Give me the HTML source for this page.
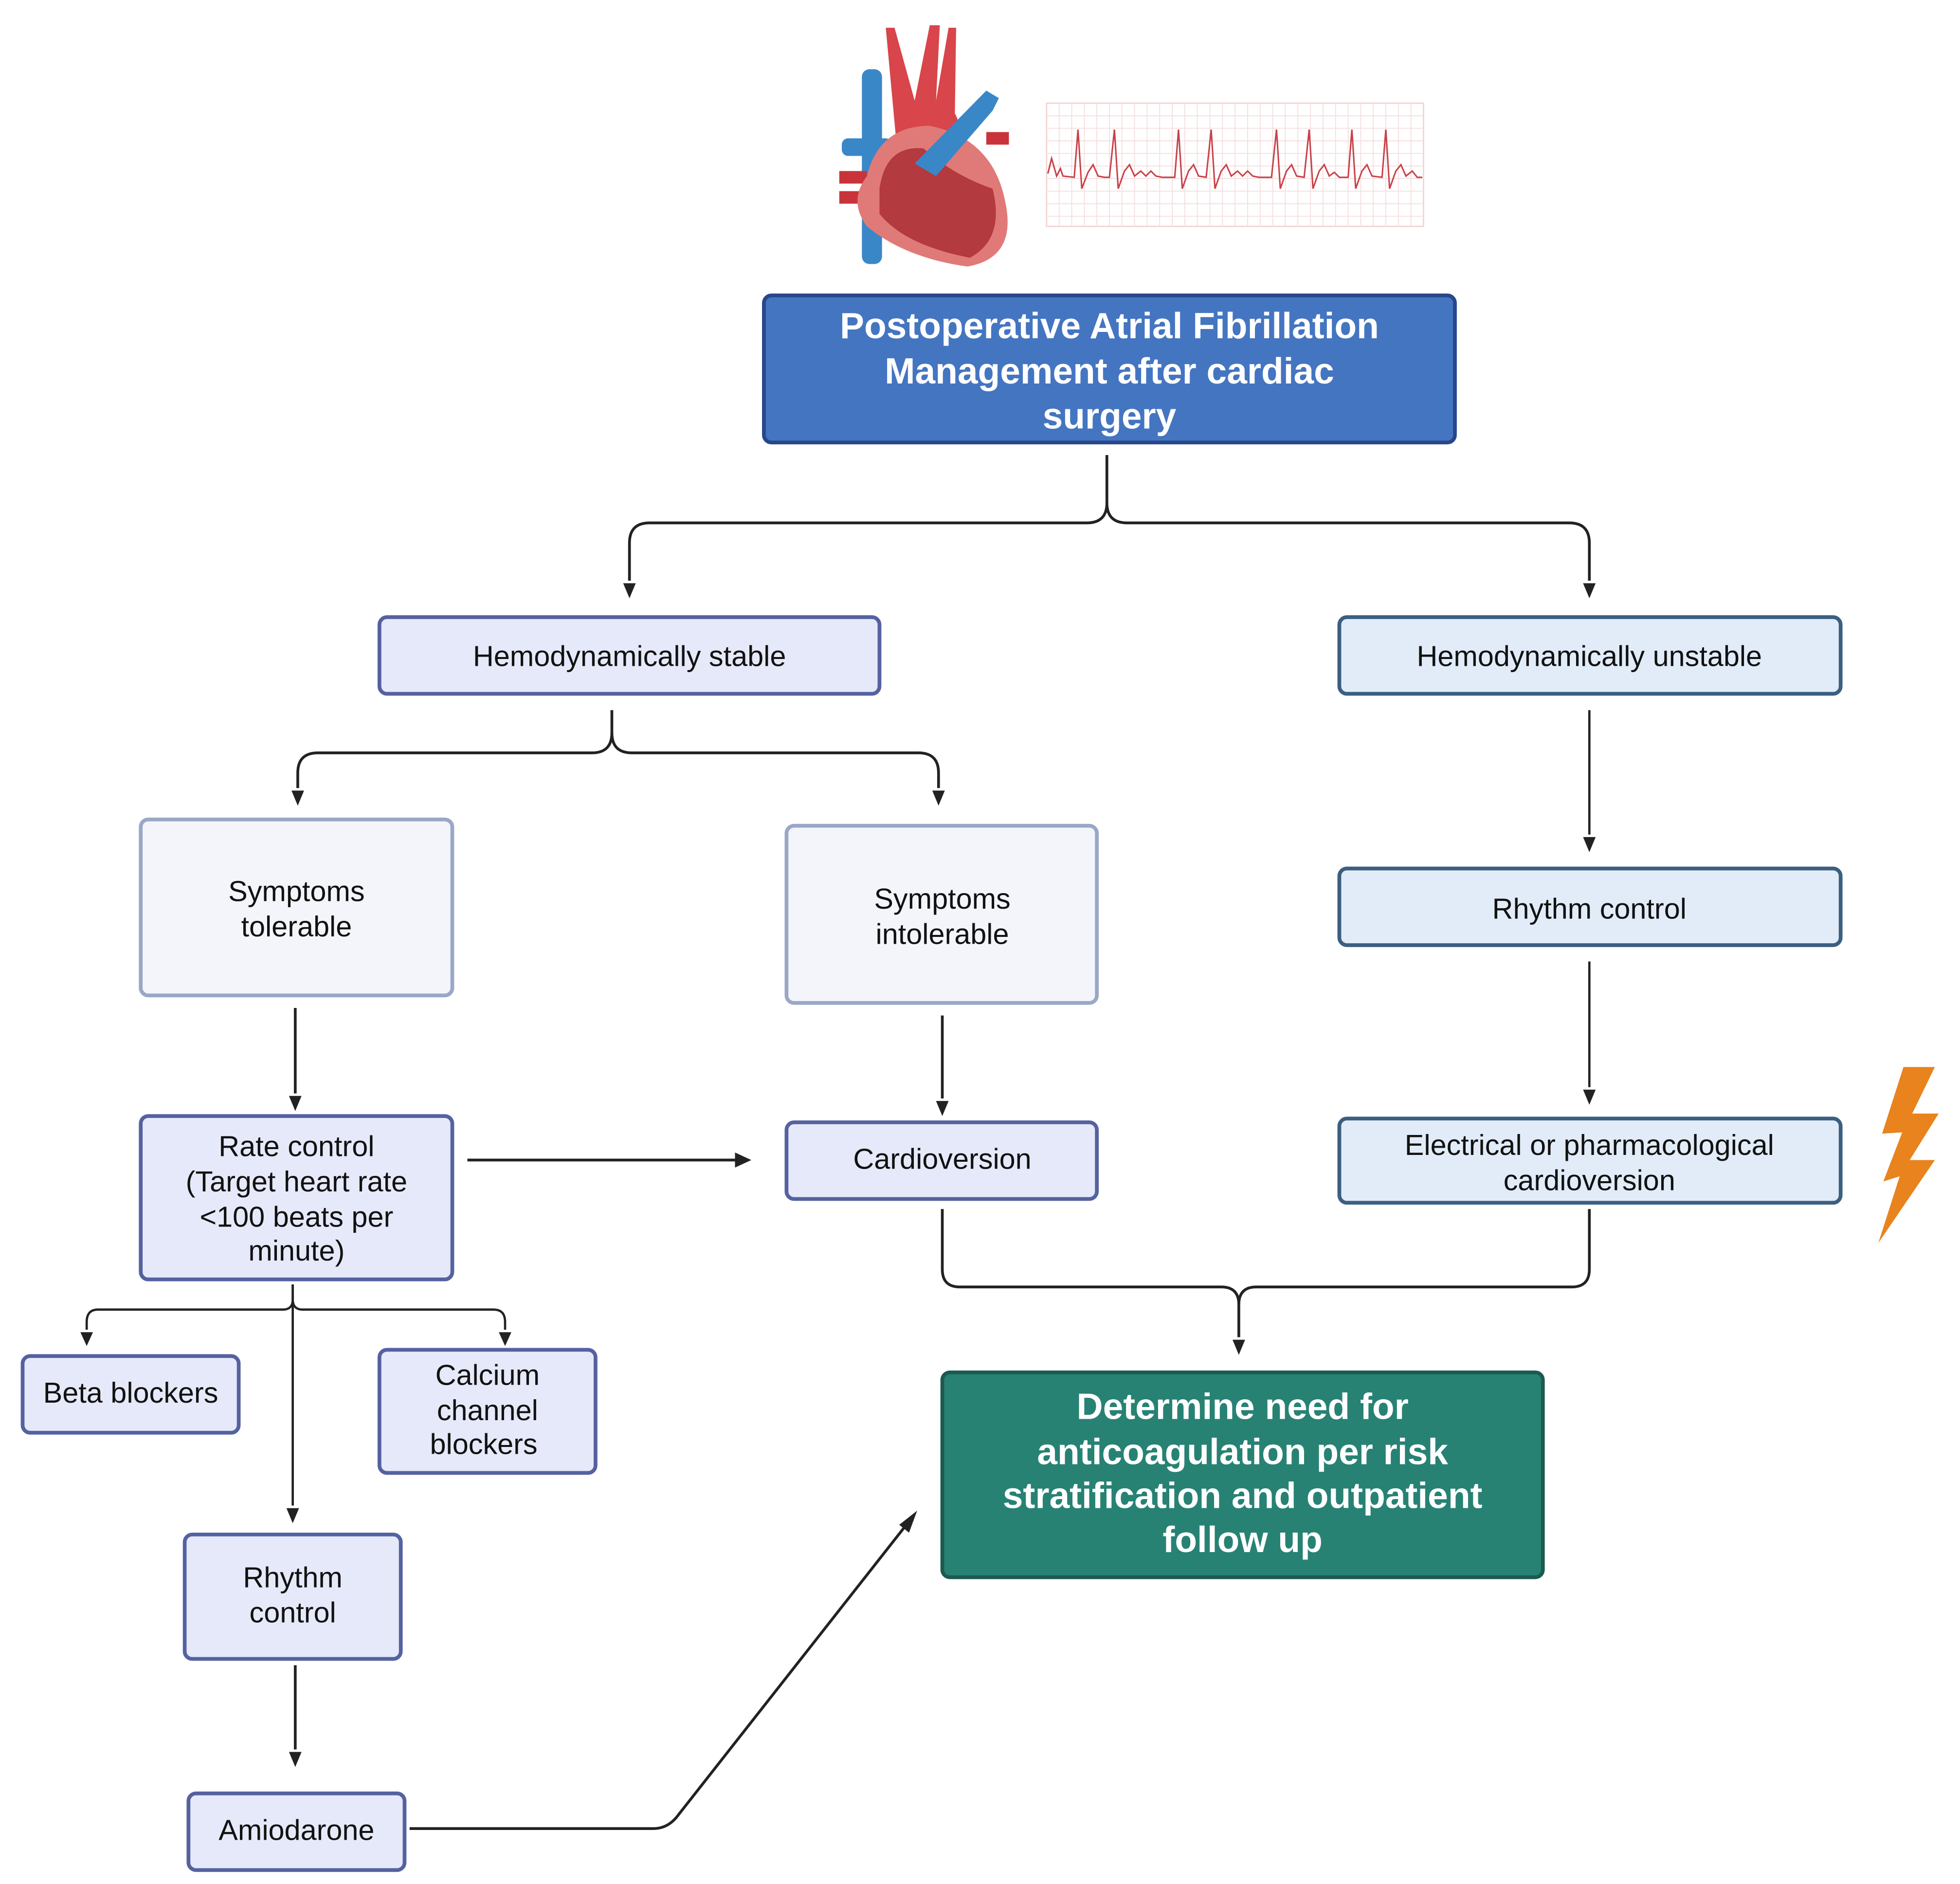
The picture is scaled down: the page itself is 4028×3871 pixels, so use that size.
<!DOCTYPE html>
<html><head><meta charset="utf-8"><style>
html,body{margin:0;padding:0;background:#fff;}
svg{display:block;}
text{font-family:"Liberation Sans",Arial,sans-serif;}
</style></head><body>
<svg width="4028" height="3871" viewBox="0 0 1560 1499" xmlns="http://www.w3.org/2000/svg">
<rect width="1560" height="1499" fill="#fff"/>

<!-- Heart -->
<g>
<rect x="686" y="55" width="16" height="155" rx="6" fill="#3a87c8"/>
<rect x="670" y="110" width="40" height="14" rx="5" fill="#3a87c8"/>
<rect x="668" y="136" width="22" height="10" fill="#c9343a"/>
<rect x="668" y="152" width="22" height="10" fill="#c9343a"/>
<path d="M705,22 L712,22 L728,80 L740,20 L748,20 L745,80 L755,22 L761,22 L760,90 Q770,110 760,128 L715,130 Z" fill="#d8454a"/>
<path d="M690,140 Q700,100 740,100 Q790,110 800,160 Q810,205 770,212 Q720,205 690,180 Q675,160 690,140 Z" fill="#e07a78"/>
<path d="M700,150 Q705,115 735,118 Q760,140 790,150 Q800,190 772,205 Q720,195 700,170 Z" fill="#b33a3e"/>
<path d="M728,130 L785,72 L795,78 L790,88 L745,140 Z" fill="#3a87c8"/>
<rect x="785" y="105" width="18" height="10" fill="#c9343a"/>
</g>

<!-- ECG -->
<g>
<rect x="833" y="82" width="300" height="98" fill="#fff" stroke="#f3d0d0" stroke-width="1"/>
<g stroke="#f6dede" stroke-width="0.7">
<path d="M843,82V180M853,82V180M863,82V180M873,82V180M883,82V180M893,82V180M903,82V180M913,82V180M923,82V180M933,82V180M943,82V180M953,82V180M963,82V180M973,82V180M983,82V180M993,82V180M1003,82V180M1013,82V180M1023,82V180M1033,82V180M1043,82V180M1053,82V180M1063,82V180M1073,82V180M1083,82V180M1093,82V180M1103,82V180M1113,82V180M1123,82V180"/>
<path d="M833,92H1133M833,102H1133M833,112H1133M833,122H1133M833,132H1133M833,142H1133M833,152H1133M833,162H1133M833,172H1133"/>
</g>
<path d="M834,138 L837,126 L841,140 L844,134 L846,140 L855,141 L858,103 L861,150 L866,137 L870,131 L874,140 L879,141 L883,141 L887,103 L890,150 L895,136 L899,131 L903,140 L908,136 L912,140 L916,136 L920,140 L925,141 L929,141 L935,141 L938,103 L941,150 L946,136 L950,131 L954,140 L960,141 L964,103 L967,150 L972,136 L976,131 L980,140 L985,136 L989,140 L993,136 L997,140 L1002,141 L1012,141 L1016,103 L1019,150 L1024,136 L1028,131 L1032,140 L1038,141 L1042,103 L1045,150 L1050,136 L1054,131 L1058,140 L1062,137 L1066,141 L1073,141 L1076,103 L1079,150 L1084,136 L1088,131 L1092,140 L1100,141 L1103,103 L1106,150 L1111,136 L1115,131 L1119,140 L1124,136 L1128,141 L1132,141" fill="none" stroke="#c8424a" stroke-width="1.2"/>
</g>

<!-- Connectors -->
<g fill="none" stroke="#222" stroke-width="2.2">
<path d="M881,362 V400 Q881,416 865,416 H517 Q501,416 501,432 V462"/>
<path d="M881,400 Q881,416 897,416 H1249 Q1265,416 1265,432 V462"/>
<path d="M487,565 V583 Q487,599 471,599 H253 Q237,599 237,615 V627"/>
<path d="M487,583 Q487,599 503,599 H731 Q747,599 747,615 V627"/>
<path d="M1265,565 V664" stroke-width="1.8"/>
<path d="M1265,765 V865" stroke-width="1.8"/>
<path d="M235,802 V870"/>
<path d="M750,808 V874"/>
<path d="M372,923 H585"/>
<path d="M750,962 V1010 Q750,1024 764,1024 H972 Q986,1024 986,1038 V1064"/>
<path d="M1265,962 V1010 Q1265,1024 1251,1024 H1000 Q986,1024 986,1038"/>
<path d="M233,1022 V1034 Q233,1042 225,1042 H78 Q69,1042 69,1052 V1058" stroke-width="1.8"/>
<path d="M233,1034 Q233,1042 241,1042 H393 Q402,1042 402,1052 V1058" stroke-width="1.8"/>
<path d="M233,1022 V1198" stroke-width="1.8"/>
<path d="M235,1325 V1392"/>
<path d="M326,1455 H520 Q532,1455 540,1444 L720,1215"/>
</g>
<g fill="#222">
<polygon points="496,464 506,464 501,476"/>
<polygon points="1260,464 1270,464 1265,476"/>
<polygon points="232,629 242,629 237,641"/>
<polygon points="742,629 752,629 747,641"/>
<polygon points="1260,666 1270,666 1265,678"/>
<polygon points="1260,867 1270,867 1265,879"/>
<polygon points="230,872 240,872 235,884"/>
<polygon points="745,876 755,876 750,888"/>
<polygon points="585,917 585,929 598,923"/>
<polygon points="981,1066 991,1066 986,1078"/>
<polygon points="64,1060 74,1060 69,1071"/>
<polygon points="397,1060 407,1060 402,1071"/>
<polygon points="228,1200 238,1200 233,1212"/>
<polygon points="230,1394 240,1394 235,1406"/>
<polygon points="723.5,1219.5 715.7,1213.3 730,1202"/>
</g>

<!-- Boxes -->
<g stroke-width="3">
<rect x="608" y="235" width="550" height="117" rx="6" fill="#4475c1" stroke="#27478a"/>
<rect x="302" y="491" width="398" height="61" rx="6" fill="#e6e9f9" stroke="#5562a0"/>
<rect x="1066" y="491" width="399" height="61" rx="6" fill="#e1ecf8" stroke="#3c5f80"/>
<rect x="112" y="652" width="248" height="140" rx="6" fill="#f3f5fb" stroke="#9aa8c6"/>
<rect x="626" y="657" width="247" height="141" rx="6" fill="#f3f5fb" stroke="#9aa8c6"/>
<rect x="1066" y="691" width="399" height="61" rx="6" fill="#e1ecf8" stroke="#3c5f80"/>
<rect x="112" y="888" width="248" height="130" rx="6" fill="#e6e9f9" stroke="#5562a0"/>
<rect x="626" y="893" width="247" height="61" rx="6" fill="#e6e9f9" stroke="#5562a0"/>
<rect x="1066" y="890" width="399" height="67" rx="6" fill="#e1ecf8" stroke="#3c5f80"/>
<rect x="18" y="1079" width="172" height="61" rx="6" fill="#e6e9f9" stroke="#5562a0"/>
<rect x="302" y="1074" width="172" height="98" rx="6" fill="#e6e9f9" stroke="#5562a0"/>
<rect x="147" y="1221" width="172" height="99" rx="6" fill="#e6e9f9" stroke="#5562a0"/>
<rect x="150" y="1427" width="172" height="61" rx="6" fill="#e6e9f9" stroke="#5562a0"/>
<rect x="750" y="1092" width="478" height="163" rx="6" fill="#278274" stroke="#1c5a50"/>
</g>

<!-- Lightning -->
<path d="M1515,849 L1540,849 L1522,886 L1543,886 L1520,923 L1540,923 L1495,989 L1512,936 L1499,940 L1514,901 L1498,902 Z" fill="#e8831e"/>

<!-- Text -->
<g font-size="29" font-weight="bold" fill="#fff" text-anchor="middle">
<text x="883" y="269">Postoperative Atrial Fibrillation</text>
<text x="883" y="305">Management after cardiac</text>
<text x="883" y="341">surgery</text>
</g>
<g font-size="29" font-weight="bold" fill="#fff" text-anchor="middle">
<text x="989" y="1129">Determine need for</text>
<text x="989" y="1165">anticoagulation per risk</text>
<text x="989" y="1200">stratification and outpatient</text>
<text x="989" y="1235">follow up</text>
</g>
<g font-size="23" fill="#111" text-anchor="middle">
<text x="501" y="530">Hemodynamically stable</text>
<text x="1265" y="530">Hemodynamically unstable</text>
<text x="236" y="717">Symptoms</text>
<text x="236" y="745">tolerable</text>
<text x="750" y="723">Symptoms</text>
<text x="750" y="751">intolerable</text>
<text x="1265" y="731">Rhythm control</text>
<text x="236" y="920">Rate control</text>
<text x="236" y="948">(Target heart rate</text>
<text x="236" y="976">&lt;100 beats per</text>
<text x="236" y="1003">minute)</text>
<text x="750" y="930">Cardioversion</text>
<text x="1265" y="919">Electrical or pharmacological</text>
<text x="1265" y="947">cardioversion</text>
<text x="104" y="1116">Beta blockers</text>
<text x="388" y="1102">Calcium</text>
<text x="388" y="1130">channel</text>
<text x="385" y="1157">blockers</text>
<text x="233" y="1263">Rhythm</text>
<text x="233" y="1291">control</text>
<text x="236" y="1464">Amiodarone</text>
</g>
</svg>
</body></html>
